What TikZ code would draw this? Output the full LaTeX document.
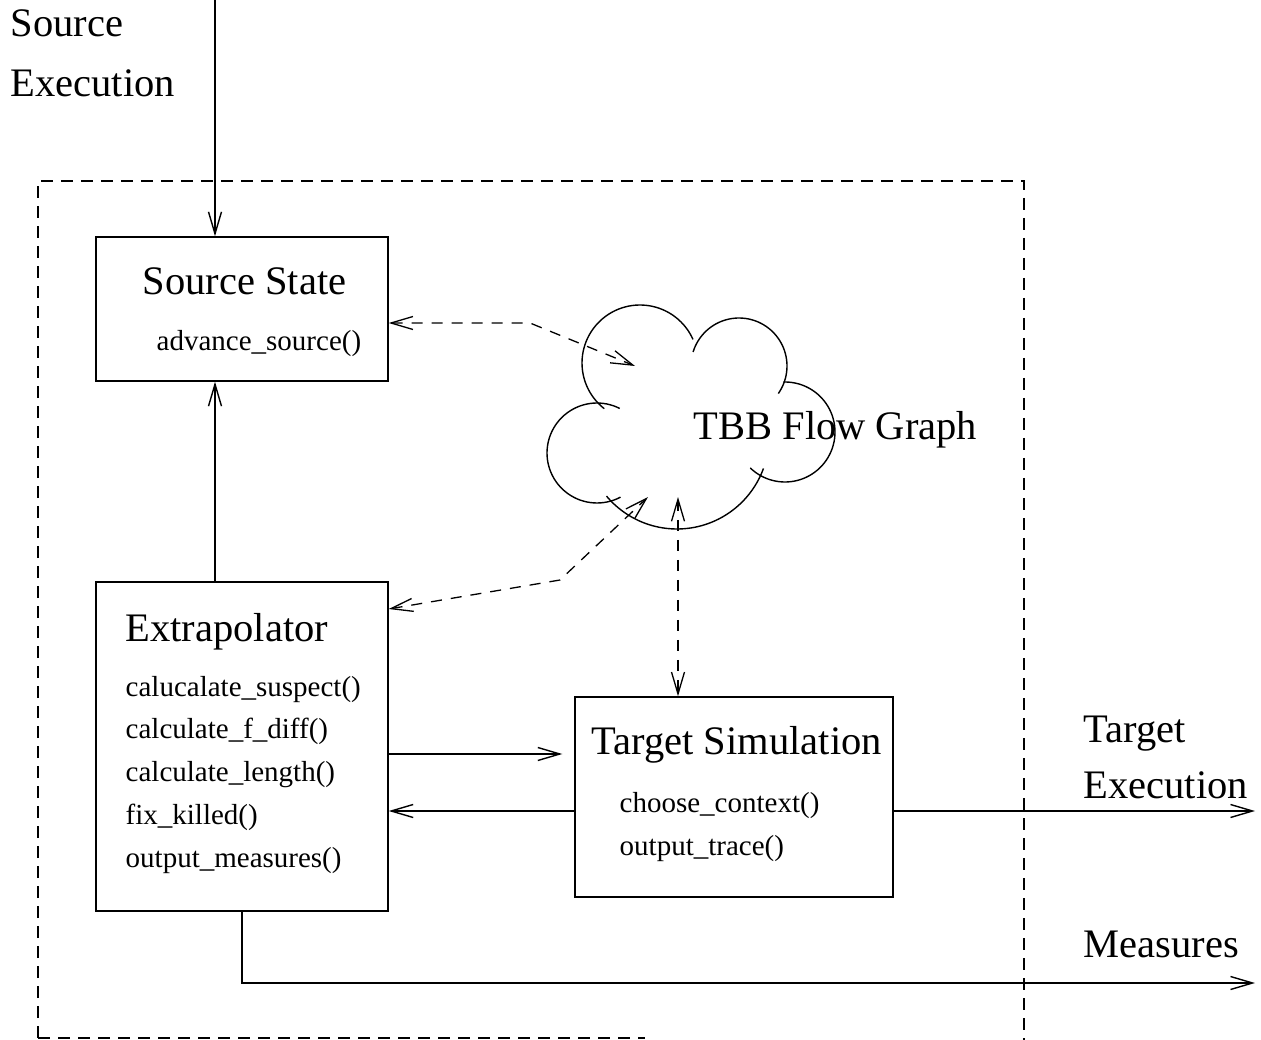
\documentclass[tikz,border=0pt]{standalone}
\usepackage{fontspec}
\setmainfont{Liberation Serif}
\usetikzlibrary{arrows.meta}
\newcommand{\bigf}{\fontsize{40.5}{48}\selectfont}
\newcommand{\smallf}{\fontsize{29}{34}\selectfont}
\begin{document}
\begin{tikzpicture}[x=1pt,y=-1pt,
  line width=1.4pt,
  >={Straight Barb[length=22pt,width=13pt]},
  box/.style={draw, rectangle, inner sep=0pt},
  lbl/.style={anchor=base west, inner sep=0pt, font=\bigf},
  meth/.style={anchor=base west, inner sep=0pt, font=\smallf},
  frame/.style={dash pattern=on 12pt off 8pt, line width=1.2pt},
  dashc/.style={dash pattern=on 11pt off 9pt, line width=1.3pt},
  cloudline/.style={line width=1.4pt}
]
\useasboundingbox (0,0) rectangle (1261,1040);

% dashed frame
\draw[frame] (38,1038) -- (38,181) -- (1024,181) -- (1024,1040);
\draw[frame] (38,1038) -- (645,1038);

% boxes
\node[box, minimum width=292pt, minimum height=144pt] (ss) at (242,309) {};
\node[box, minimum width=292pt, minimum height=329pt] (ex) at (242,746.5) {};
\node[box, minimum width=318pt, minimum height=200pt] (ts) at (734,797) {};

% box texts
\node[lbl] (ssT) at (142,295) {Source State};
\node[meth] (ssM) at (156,351) {advance\_source()};

\node[lbl] (exT) at (125,641) {Extrapolator};
\node[meth] (exM1) at (125,696) {calucalate\_suspect()};
\node[meth] (exM2) at (125,738.5) {calculate\_f\_diff()};
\node[meth] (exM3) at (125,781) {calculate\_length()};
\node[meth] (exM4) at (125,824) {fix\_killed()};
\node[meth] (exM5) at (125,867) {output\_measures()};

\node[lbl] (tsT) at (591,754) {Target Simulation};
\node[meth] (tsM1) at (619,812.5) {choose\_context()};
\node[meth] (tsM2) at (619,855) {output\_trace()};

% outside labels
\node[lbl] (srcL1) at (10,37) {Source};
\node[lbl] (srcL2) at (10,97) {Execution};
\node[lbl] (tgtL1) at (1083,742) {Target};
\node[lbl] (tgtL2) at (1083,798) {Execution};
\node[lbl] (measL) at (1083,957) {Measures};

% cloud
\begin{scope}[cloudline]
\draw plot[domain=128:336, samples=60, smooth] ({640+58*cos(\x)},{363+58*sin(\x)});
\draw plot[domain=197:395, samples=60, smooth] ({739+48*cos(\x)},{366+48*sin(\x)});
\draw plot[domain=268:494, samples=60, smooth] ({785+50*cos(\x)},{432+50*sin(\x)});
\draw plot[domain=20:140, samples=60, smooth] ({677+92*cos(\x)},{437+92*sin(\x)});
\draw plot[domain=62:297, samples=60, smooth] ({597+50*cos(\x)},{453+50*sin(\x)});
\end{scope}
\node[lbl] (cloudT) at (693,439) {TBB Flow Graph};
\coordinate (cl1) at (635,366);
\coordinate (cl2) at (648,497);
\coordinate (cl3) at (678,497);

% free ends
\coordinate (srcin) at (215,0);
\coordinate (tgtout) at (1255,811);
\coordinate (measout) at (1255,983);

% solid connectors
\draw[->] (srcin) -- (srcin |- ss.north);
\draw[->] (srcin |- ex.north) -- (srcin |- ss.south);
\draw[->, shorten >=12pt] (ex.east |- 0,754) -- (ts.west |- 0,754);
\draw[->] (ts.west |- 0,811) -- (ex.east |- 0,811);
\draw[->] (ts.east |- 0,811) -- (tgtout);
\draw[->] (ex.south -| 242,0) |- (measout);

% dashed connectors
\draw[dashc, <->] (ss.east |- 0,323) -- (530,323) -- (cl1);
\draw[dashc, <->] (ex.east |- 0,609) -- (560,580) -- (cl2);
\draw[dashc, <->] (cl3) -- (cl3 |- ts.north);
\end{tikzpicture}
\end{document}
